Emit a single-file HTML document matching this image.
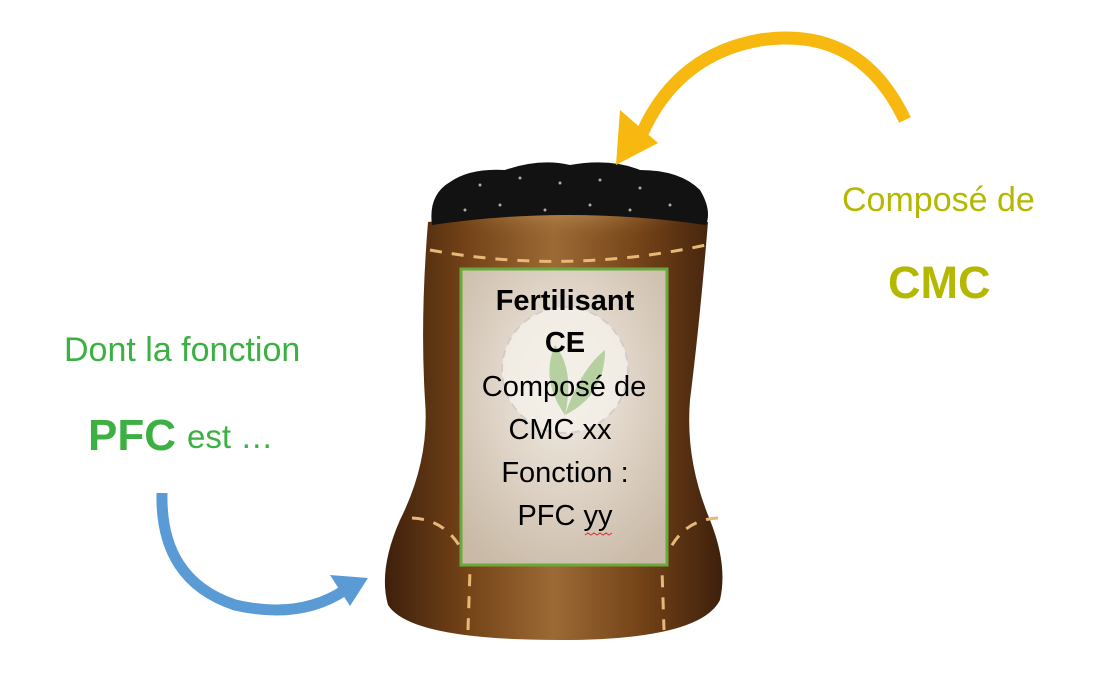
<!DOCTYPE html>
<html><head><meta charset="utf-8"><style>
body{margin:0;background:#fff;}
svg{display:block;font-family:"Liberation Sans",Arial,sans-serif;}
</style></head><body>
<svg width="1118" height="696" viewBox="0 0 1118 696" xmlns="http://www.w3.org/2000/svg">
<defs>
<linearGradient id="bag" x1="0" x2="1" y1="0" y2="0">
<stop offset="0" stop-color="#3e200c"/><stop offset="0.25" stop-color="#754418"/>
<stop offset="0.5" stop-color="#9c6a35"/><stop offset="0.75" stop-color="#754418"/>
<stop offset="1" stop-color="#3e200c"/></linearGradient>
<radialGradient id="lab" cx="0.5" cy="0.4" r="0.7">
<stop offset="0" stop-color="#f3ede5"/><stop offset="1" stop-color="#c9b9a6"/></radialGradient>
<radialGradient id="top" cx="0.5" cy="0" r="0.6">
<stop offset="0" stop-color="#e0b070"/><stop offset="1" stop-color="#8a5a28" stop-opacity="0"/></radialGradient>
</defs>
<path d="M428 222 Q566 205 708 222 Q700 320 690 400 Q685 460 710 520 Q728 565 720 600 Q700 640 560 640 Q410 640 388 605 Q378 570 400 520 Q430 460 425 400 Q420 320 428 222 Z" fill="url(#bag)"/>
<ellipse cx="566" cy="235" rx="120" ry="40" fill="url(#top)"/>
<path d="M432 225 Q428 195 450 182 Q470 168 505 170 Q540 158 570 165 Q610 158 640 170 Q680 170 700 190 Q712 210 706 225 Q566 205 432 225 Z" fill="#121212"/>
<g fill="#aaa"><circle cx="480" cy="185" r="1.5"/><circle cx="520" cy="178" r="1.5"/><circle cx="560" cy="183" r="1.5"/><circle cx="600" cy="180" r="1.5"/><circle cx="640" cy="188" r="1.5"/><circle cx="500" cy="205" r="1.5"/><circle cx="545" cy="210" r="1.5"/><circle cx="590" cy="205" r="1.5"/><circle cx="630" cy="210" r="1.5"/><circle cx="670" cy="205" r="1.5"/><circle cx="465" cy="210" r="1.5"/></g>
<path d="M430 250 Q566 275 706 245" fill="none" stroke="#e8b878" stroke-width="3" stroke-dasharray="12 10"/>
<path d="M412 518 Q455 520 470 570 L468 630" fill="none" stroke="#e8b878" stroke-width="3" stroke-dasharray="12 10"/>
<path d="M718 518 Q675 520 662 570 L664 630" fill="none" stroke="#e8b878" stroke-width="3" stroke-dasharray="12 10"/>
<rect x="461" y="269" width="206" height="296" fill="url(#lab)" stroke="#6aaa3c" stroke-width="3"/>
<circle cx="565" cy="370" r="63" fill="#f5f1ea" opacity="0.8" stroke="#ccc" stroke-width="2" stroke-dasharray="8 6"/>
<path d="M565 415 Q540 380 555 345 Q575 370 565 415 Z M565 415 Q580 370 605 350 Q605 395 565 415 Z" fill="#a8c890" opacity="0.8"/>
<g text-anchor="middle" font-size="29" fill="#000">
<text x="565" y="310" font-weight="bold">Fertilisant</text>
<text x="565" y="352" font-weight="bold">CE</text>
<text x="564" y="396">Composé de</text>
<text x="560" y="439">CMC xx</text>
<text x="565" y="482">Fonction :</text>
<text x="565" y="525">PFC yy</text>
</g>
<path d="M585 535 l3 -2 3 2 3 -2 3 2 3 -2 3 2 3 -2 3 2 3 -2" fill="none" stroke="#d33" stroke-width="1"/>
<path d="M905 120 Q860 25 760 40 Q675 55 640 138" fill="none" stroke="#f7b90f" stroke-width="13"/>
<polygon points="616,165 620,110 658,143" fill="#f7b90f"/>
<path d="M162 493 Q160 580 235 605 Q300 620 345 590" fill="none" stroke="#5b9bd5" stroke-width="11"/>
<polygon points="368,578 330,575 350,606" fill="#5b9bd5"/>
<text x="64" y="361" font-size="34" fill="#3cb043">Dont la fonction</text>
<text x="88" y="450" font-size="44" font-weight="bold" fill="#3cb043">PFC</text>
<text x="187" y="448" font-size="33" fill="#3cb043">est …</text>
<text x="842" y="211" font-size="34" fill="#b5b800">Composé de</text>
<text x="888" y="298" font-size="45" font-weight="bold" fill="#b5b800">CMC</text>
</svg>
</body></html>
